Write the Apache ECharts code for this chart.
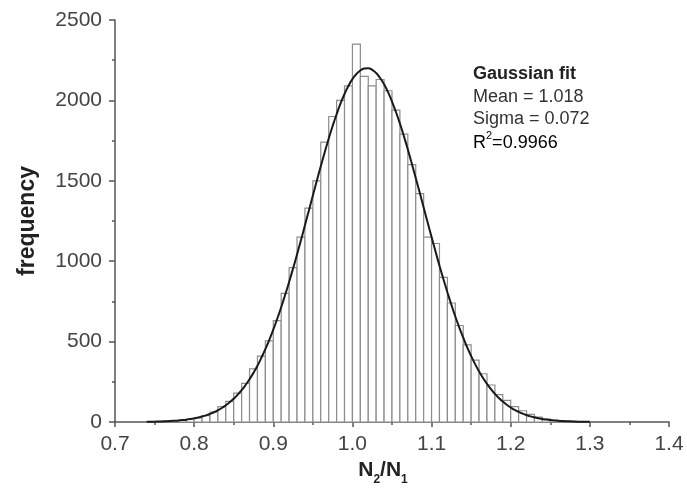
<!DOCTYPE html>
<html>
<head>
<meta charset="utf-8">
<script src="https://cdn.jsdelivr.net/npm/echarts@6/dist/echarts.min.js"></script>
<style>
html,body{margin:0;padding:0;background:#fff;}
#chart{width:687px;height:495px;}
</style>
</head>
<body>
<div id="chart"></div>
<script>
// Histogram bins (left edges), bin width 0.01
var binStarts = [0.74,0.75,0.76,0.77,0.78,0.79,0.80,0.81,0.82,0.83,0.84,0.85,0.86,0.87,0.88,0.89,
  0.90,0.91,0.92,0.93,0.94,0.95,0.96,0.97,0.98,0.99,1.00,1.01,1.02,1.03,1.04,1.05,1.06,1.07,1.08,1.09,
  1.10,1.11,1.12,1.13,1.14,1.15,1.16,1.17,1.18,1.19,1.20,1.21,1.22,1.23,1.24,1.25,1.26,1.27,1.28,1.29];
var binWidth = 0.01;
var counts = [2,3,5,8,11,17,25,40,62,95,128,180,240,330,410,505,
  630,800,960,1150,1330,1500,1740,1900,2000,2090,2350,2150,2090,2130,2060,1940,1790,1600,1420,1150,
  1110,900,740,600,480,385,300,230,170,135,95,70,48,30,18,11,7,4,2,1];

// Gaussian fit curve points
var fitX = [0.740,0.745,0.750,0.755,0.760,0.765,0.770,0.775,0.780,0.785,0.790,0.795,0.800,0.805,0.810,0.815,
  0.820,0.825,0.830,0.835,0.840,0.845,0.850,0.855,0.860,0.865,0.870,0.875,0.880,0.885,0.890,0.895,
  0.900,0.905,0.910,0.915,0.920,0.925,0.930,0.935,0.940,0.945,0.950,0.955,0.960,0.965,0.970,0.975,
  0.980,0.985,0.990,0.995,1.000,1.005,1.010,1.015,1.020,1.025,1.030,1.035,1.040,1.045,1.050,1.055,
  1.060,1.065,1.070,1.075,1.080,1.085,1.090,1.095,1.100,1.105,1.110,1.115,1.120,1.125,1.130,1.135,
  1.140,1.145,1.150,1.155,1.160,1.165,1.170,1.175,1.180,1.185,1.190,1.195,1.200,1.205,1.210,1.215,
  1.220,1.225,1.230,1.235,1.240,1.245,1.250,1.255,1.260,1.265,1.270,1.275,1.280,1.285,1.290,1.295,1.300];
var fitY = [1.3,1.7,2.2,2.8,3.6,4.6,5.8,7.4,9.3,11.7,14.6,18.2,22.5,27.7,33.9,41.3,
  50.2,60.5,72.8,87,104,123,145,170,198,230,266,306,350,400,453,511,
  574,642,714,791,871,955,1042,1132,1223,1316,1408,1500,1590,1678,1762,1841,
  1914,1981,2040,2091,2132,2164,2186,2198,2200,2190,2170,2139,2100,2051,1993,1928,
  1856,1778,1695,1608,1518,1427,1334,1242,1150,1060,972,888,807,729,656,588,
  524,464,410,360,315,274,237,204,175,149,127,107,90,75,63,52,
  43,35,29,23,19,15,12,10,7.7,6,4.8,4,2.9,2,1.8,1.3,1.0];

var xTicks = [0.7,0.8,0.9,1.0,1.1,1.2,1.3,1.4];
var yTicks = [0,500,1000,1500,2000,2500];
var fitLines = ['Gaussian fit','Mean = 1.018','Sigma = 0.072','R²=0.9966'];

var histData = binStarts.map(function(s,i){ return [s, s + binWidth, counts[i]]; });
var fitData = fitX.map(function(x,i){ return [x, fitY[i]]; });

var chart = echarts.init(document.getElementById('chart'));
var FONT = '"Liberation Sans", Arial, sans-serif';
var axisColor = '#555';
chart.setOption({
  animation: false,
  backgroundColor: '#fff',
  grid: { left: 115, right: 18, top: 20, bottom: 73 },
  xAxis: {
    type: 'value',
    min: xTicks[0], max: xTicks[xTicks.length-1], interval: 0.1,
    name: '{b|N}{s|2}{b|/N}{s|1}',
    nameLocation: 'middle', nameGap: 36,
    nameTextStyle: {
      padding: [0, 18, 0, 0],
      rich: {
        b: { fontFamily: FONT, fontSize: 21, fontWeight: 'bold', color: '#222', lineHeight: 26, verticalAlign: 'top' },
        s: { fontFamily: FONT, fontSize: 12, fontWeight: 'bold', color: '#222', lineHeight: 26, verticalAlign: 'bottom', padding: [10,0,0,0] }
      }
    },
    axisLine: { show: true, onZero: false, lineStyle: { color: axisColor, width: 1.5 } },
    axisTick: { show: true, inside: false, length: 5, lineStyle: { color: axisColor, width: 1.5 } },
    minorTick: { show: true, splitNumber: 2, length: 3, lineStyle: { color: axisColor, width: 1.5 } },
    axisLabel: { fontFamily: FONT, fontSize: 21, color: '#444', margin: 12,
      formatter: function(v){ return v.toFixed(1); } },
    splitLine: { show: false }
  },
  yAxis: {
    type: 'value',
    min: yTicks[0], max: yTicks[yTicks.length-1], interval: 500,
    name: 'frequency',
    nameLocation: 'middle', nameGap: 76,
    nameTextStyle: { fontFamily: FONT, fontSize: 23, fontWeight: 'bold', color: '#222' },
    axisLine: { show: true, onZero: false, lineStyle: { color: axisColor, width: 1.5 } },
    axisTick: { show: true, inside: false, length: 6, lineStyle: { color: axisColor, width: 1.5 } },
    minorTick: { show: true, splitNumber: 2, length: 3, lineStyle: { color: axisColor, width: 1.5 } },
    axisLabel: { fontFamily: FONT, fontSize: 21, color: '#444', margin: 13,
      formatter: function(v){ return String(v); } },
    splitLine: { show: false }
  },
  series: [
    {
      type: 'custom',
      name: 'histogram',
      data: histData,
      encode: { x: [0,1], y: 2 },
      renderItem: function(params, api){
        var p0 = api.coord([api.value(0), 0]);
        var p1 = api.coord([api.value(1), api.value(2)]);
        return {
          type: 'rect',
          shape: { x: p0[0], y: p1[1], width: p1[0]-p0[0], height: p0[1]-p1[1] },
          style: { fill: '#fff', stroke: '#8c8c8c', lineWidth: 1.2 }
        };
      },
      z: 2
    },
    {
      type: 'line',
      name: 'Gaussian fit',
      data: fitData,
      smooth: true,
      showSymbol: false,
      lineStyle: { color: '#1a1a1a', width: 2 },
      z: 3
    }
  ],
  graphic: [
    { type: 'text', left: 473, top: 65, style: { text: fitLines[0], font: 'bold 18px ' + FONT, fill: '#222' } },
    { type: 'text', left: 473, top: 88, style: { text: fitLines[1], font: '18px ' + FONT, fill: '#333' } },
    { type: 'text', left: 473, top: 110, style: { text: fitLines[2], font: '18px ' + FONT, fill: '#333' } },
    { type: 'text', left: 473, top: 130, style: {
        text: '{a|R}{sup|2}{a|=0.9966}',
        rich: {
          a: { fontFamily: FONT, fontSize: 18, color: '#333', lineHeight: 22, verticalAlign: 'bottom' },
          sup: { fontFamily: FONT, fontSize: 11, color: '#333', lineHeight: 22, verticalAlign: 'top' }
        }
    } }
  ]
});
</script>
</body>
</html>
